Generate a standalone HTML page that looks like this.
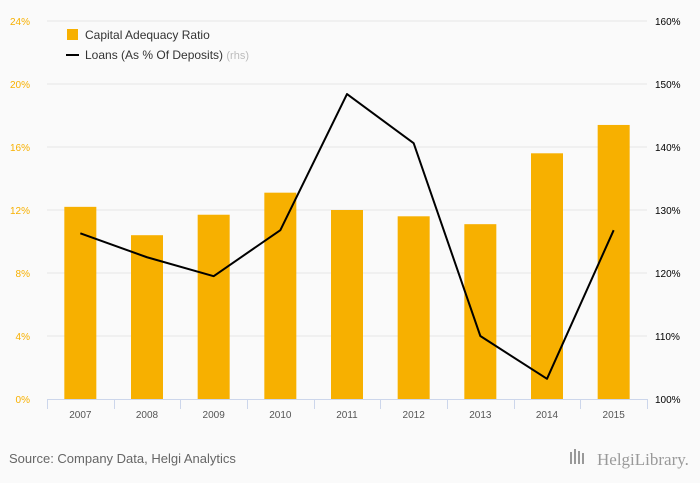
<!DOCTYPE html>
<html><head><meta charset="utf-8">
<style>
html,body{margin:0;padding:0;background:#fafafa;}
body{width:700px;height:483px;overflow:hidden;font-family:"Liberation Sans",sans-serif;}
</style></head>
<body>
<svg id="chart" width="700" height="483" xmlns="http://www.w3.org/2000/svg" style="display:block">
<rect width="700" height="483" fill="#fafafa"/>
<g id="grid"></g>
<g id="bars"></g>
<g id="axes"></g>
<g id="line"></g>
<g>
  <rect x="67" y="29" width="11" height="11" fill="#f7b000"/>
  <text x="85" y="39" font-size="12" fill="#333">Capital Adequacy Ratio</text>
  <line x1="66" y1="55" x2="79" y2="55" stroke="#000" stroke-width="2"/>
  <text x="85" y="59" font-size="12" fill="#333">Loans (As % Of Deposits) <tspan fill="#bbb" font-size="11">(rhs)</tspan></text>
</g>
<text x="9" y="463" font-size="13" fill="#666">Source: Company Data, Helgi Analytics</text>
<g>
  <rect x="570" y="452" width="2" height="12" fill="#999"/><rect x="574" y="449" width="2" height="15" fill="#999"/><rect x="578" y="451" width="2" height="13" fill="#999"/><rect x="582" y="453" width="2" height="11" fill="#999"/>
  <text x="597" y="465" font-size="17" fill="#999" font-family="Liberation Serif,serif">HelgiLibrary.</text>
</g>
</svg>
<script>
const categories=["2007","2008","2009","2010","2011","2012","2013","2014","2015"];
const carValues=[12.2,10.4,11.7,13.1,12.0,11.6,11.1,15.6,17.4];
const loanValues=[126.3,122.5,119.5,126.8,148.4,140.6,110.0,103.2,126.8];
const leftTicks=[0,4,8,12,16,20,24];
const rightTicks=[100,110,120,130,140,150,160];
const NS="http://www.w3.org/2000/svg";
const X0=47,X1=647,YB=399,YT=21;
const band=(X1-X0)/categories.length;
const xc=i=>X0+band*(i+0.5);
const yL=v=>YB-(v-0)/(24-0)*(YB-YT);
const yR=v=>YB-(v-100)/(160-100)*(YB-YT);
function mk(tag,attrs,parent,text){const e=document.createElementNS(NS,tag);for(const k in attrs)e.setAttribute(k,attrs[k]);if(text!==undefined)e.textContent=text;parent.appendChild(e);return e;}
const grid=document.getElementById('grid'),bars=document.getElementById('bars'),axes=document.getElementById('axes'),line=document.getElementById('line');
leftTicks.forEach((t,i)=>{
  const y=yL(t);
  if(i>0){const g=mk('line',{x1:X0,x2:X1,y1:y,y2:y,stroke:'#e6e6e6','stroke-width':1},grid);
  
  }
  const l=mk('text',{x:30,y:y+4,'font-size':10,fill:'#f7b000','text-anchor':'end'},axes,t+'%');
  
  
});
rightTicks.forEach(t=>{
  const r=mk('text',{x:655,y:yR(t)+4,'font-size':10,fill:'#000'},axes,t+'%');
  
  
});
carValues.forEach((v,i)=>{
  const b=mk('rect',{x:xc(i)-16,y:yL(v),width:32,height:YB-yL(v),fill:'#f7b000'},bars);
  
  
});
const ax=mk('line',{x1:X0,x2:X1,y1:YB+0.5,y2:YB+0.5,stroke:'#ccd6eb','stroke-width':1},axes);


for(let i=0;i<=categories.length;i++){
  const x=Math.round(X0+band*i)+0.5;
  const tk=mk('line',{x1:x,x2:x,y1:YB,y2:YB+10,stroke:'#ccd6eb','stroke-width':1},axes);
  
  
}
categories.forEach((c,i)=>{
  const t=mk('text',{x:xc(i),y:418,'font-size':10,fill:'#555','text-anchor':'middle'},axes,c);
  
  
});
const pts=loanValues.map((v,i)=>xc(i)+','+yR(v)).join(' ');
const pl=mk('polyline',{points:pts,fill:'none',stroke:'#000','stroke-width':2,'stroke-linejoin':'round'},line);


</script>
</body></html>
